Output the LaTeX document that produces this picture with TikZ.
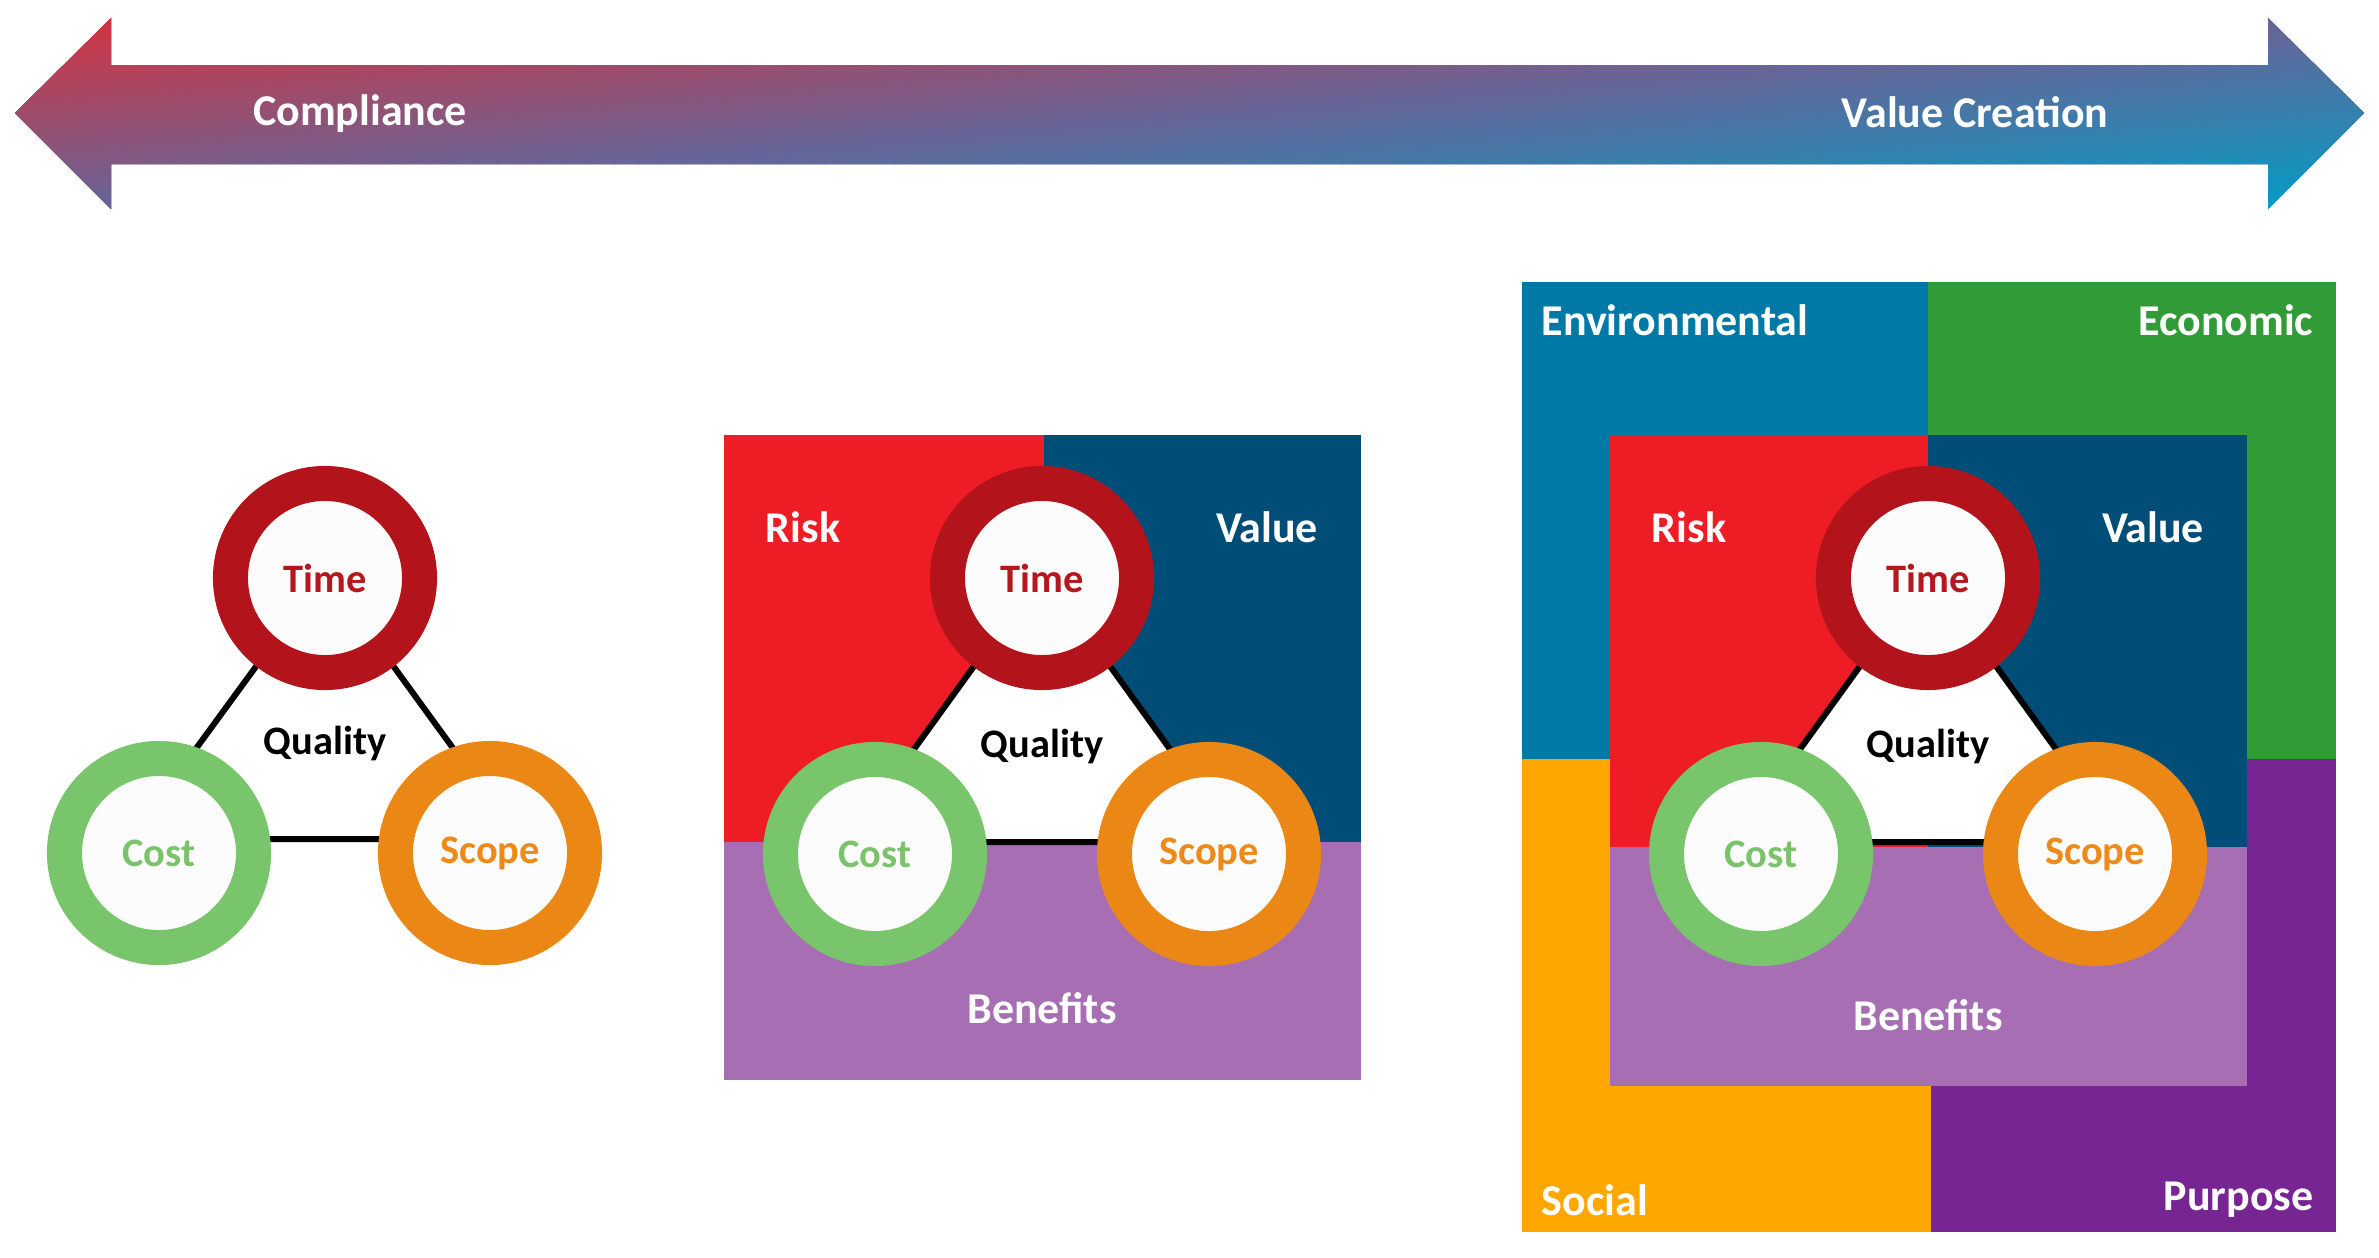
\documentclass[tikz,border=0pt]{standalone}
\usepackage{fontspec}
\setmainfont{Carlito}
\definecolor{arrA}{RGB}{215,50,62}
\definecolor{arrB}{RGB}{105,100,150}
\definecolor{arrC}{RGB}{0,158,200}
\definecolor{timeC}{RGB}{179,20,27}
\definecolor{costC}{RGB}{120,197,107}
\definecolor{scopeC}{RGB}{235,135,20}
\definecolor{timeT}{RGB}{181,23,30}
\definecolor{costT}{RGB}{122,195,106}
\definecolor{scopeT}{RGB}{238,138,26}
\definecolor{ringIn}{RGB}{252,252,252}
\definecolor{riskC}{RGB}{238,28,36}
\definecolor{valueC}{RGB}{0,78,120}
\definecolor{benC}{RGB}{167,110,179}
\definecolor{envC}{RGB}{0,121,167}
\definecolor{ecoC}{RGB}{49,155,56}
\definecolor{socC}{RGB}{254,167,0}
\definecolor{purC}{RGB}{119,37,146}
\newcommand{\myarrowpath}{(15,113) -- (111,18) -- (111,65) -- (2268,65) -- (2268,18) -- (2364,113) -- (2268,209) -- (2268,164) -- (111,164) -- (111,209) -- cycle}
\begin{document}
\begin{tikzpicture}[x=0.01cm,y=-0.01cm,
  lbl/.style={font=\fontsize{12.5}{14}\selectfont\bfseries, text=white, inner sep=0},
  ring/.style n args={2}{circle, draw=#1, line width=0.35cm, fill=ringIn,
     minimum size=1.89cm, inner sep=0, font=\fontsize{11.5}{13}\selectfont\bfseries, text=#2},
  tri/.style={draw=black, fill=white, line width=0.06cm, line join=miter},
  qual/.style={font=\fontsize{11.5}{13}\selectfont\bfseries, text=black, inner sep=0}]
\useasboundingbox (0,0) rectangle (2379,1257);
% ---- arrow with diagonal (box-relative) gradient, overlapping bands
\begin{scope}
\clip \myarrowpath;
\fill[arrA] (0,0) rectangle (2379,230);
\foreach \i in {0,...,199}{
  \pgfmathsetmacro\sa{\i/100}
  \pgfmathsetmacro\sb{\sa+0.04}
  \pgfmathsetmacro\tval{(\i+0.5)/200}
  \ifdim\tval pt<0.5pt
    \pgfmathsetmacro\pp{100*(1-2*\tval)}
    \colorlet{stripc}{arrA!\pp!arrB}
  \else
    \pgfmathsetmacro\pp{100*(2-2*\tval)}
    \colorlet{stripc}{arrB!\pp!arrC}
  \fi
  \fill[stripc] ({15+\sa*2349},18) -- ({15+\sb*2349},18) -- ({15+(\sb-1)*2349},209) -- ({15+(\sa-1)*2349},209) -- cycle;
}
\end{scope}
\node[lbl] (compl) at (360,114) {Compliance};
\node[lbl] (valcr) at (1975,112) {Value Creation};
% ---- left diagram
\coordinate (ta1) at (325,572);
\coordinate (tb1) at (130,839);
\coordinate (tc1) at (519,839);
\draw[tri] (ta1) -- (tb1) -- (tc1) -- cycle;
\node[qual] (q1) at (325,743) {Quality};
\node[ring={timeC}{timeT}] (time1) at (325,578) {Time};
\node[ring={costC}{costT}] (cost1) at (159,853) {Cost};
\node[ring={scopeC}{scopeT}] (scope1) at (490,853) {Scope};
% ---- middle diagram
\fill[riskC] (724,435) rectangle (1044,842);
\fill[valueC] (1044,435) rectangle (1361,842);
\fill[benC] (724,842) rectangle (1361,1080);
\node[lbl] (risk2) at (803,527) {Risk};
\node[lbl] (value2) at (1267,527) {Value};
\node[lbl] (ben2) at (1042,1008) {Benefits};
\coordinate (ta2) at (1042,572);
\coordinate (tb2) at (847,842);
\coordinate (tc2) at (1237,842);
\draw[tri] (ta2) -- (tb2) -- (tc2) -- cycle;
\node[qual] (q2) at (1042,746) {Quality};
\node[ring={timeC}{timeT}] (time2) at (1042,578) {Time};
\node[ring={costC}{costT}] (cost2) at (875,854) {Cost};
\node[ring={scopeC}{scopeT}] (scope2) at (1209,854) {Scope};
% ---- right diagram
\fill[envC] (1522,282) rectangle (1928,759);
\fill[ecoC] (1928,282) rectangle (2336,759);
\fill[socC] (1522,759) rectangle (1931,1232);
\fill[purC] (1931,759) rectangle (2336,1232);
\node[lbl, anchor=west] (env) at (1541,320) {Environmental};
\node[lbl, anchor=east] (eco) at (2314,320) {Economic};
\node[lbl, anchor=west] (soc) at (1541,1200) {Social};
\node[lbl, anchor=east] (pur) at (2314,1200) {Purpose};
\fill[riskC] (1610,435) rectangle (1928,847);
\fill[valueC] (1928,435) rectangle (2247,847);
\fill[benC] (1610,847) rectangle (2247,1086);
\node[lbl] (risk3) at (1689,527) {Risk};
\node[lbl] (value3) at (2153,527) {Value};
\node[lbl] (ben3) at (1928,1015) {Benefits};
\coordinate (ta3) at (1928,572);
\coordinate (tb3) at (1733,842);
\coordinate (tc3) at (2123,842);
\draw[tri] (ta3) -- (tb3) -- (tc3) -- cycle;
\node[qual] (q3) at (1928,746) {Quality};
\node[ring={timeC}{timeT}] (time3) at (1928,578) {Time};
\node[ring={costC}{costT}] (cost3) at (1761,854) {Cost};
\node[ring={scopeC}{scopeT}] (scope3) at (2095,854) {Scope};
\end{tikzpicture}
\end{document}
